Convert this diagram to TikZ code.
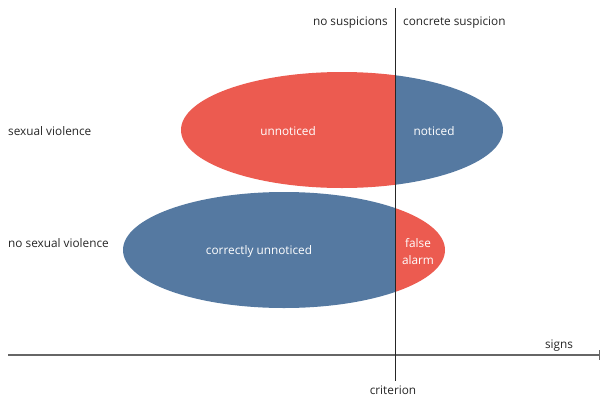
\documentclass[tikz,border=0pt]{standalone}
\usepackage{fontspec}
\setmainfont{Open Sans}
\definecolor{redc}{HTML}{EC5B50}
\definecolor{bluec}{HTML}{5579A1}
\begin{document}
\begin{tikzpicture}[x=1pt,y=-1pt,
  lab/.style={font=\fontsize{11.8}{14}\selectfont, text=black!85, inner sep=0pt},
  inlab/.style={font=\fontsize{11.8}{17}\selectfont, text=white, inner sep=0pt, align=center}]
\useasboundingbox (0,0) rectangle (600,397);
\begin{scope}
  \clip (0,0) rectangle (395.5,397);
  \fill[redc] (342,130) ellipse [x radius=161, y radius=58];
  \fill[bluec] (284,250) ellipse [x radius=161, y radius=58];
\end{scope}
\begin{scope}
  \clip (395.5,0) rectangle (600,397);
  \fill[bluec] (342,130) ellipse [x radius=161, y radius=58];
  \fill[redc] (284,250) ellipse [x radius=161, y radius=58];
\end{scope}
% axes
\coordinate (hl) at (8,355);
\coordinate (hr) at (599,355);
\coordinate (vt) at (395.5,8);
\coordinate (vb) at (395.5,381);
\draw[black!60, line width=1.2pt] (hl) -- (hr);
\draw[black!60, line width=1pt] (599,350) -- (599,360);
\draw[black!85, line width=1.2pt] (vt) -- (vb);
% labels
\node[lab, anchor=east] (ns) at (388,22.5) {no suspicions};
\node[lab, anchor=west] (cs) at (403,22.5) {concrete suspicion};
\node[lab, anchor=west] (sv) at (8,131) {sexual violence};
\node[lab, anchor=west] (nsv) at (8,243) {no sexual violence};
\node[lab] (sg) at (559,346) {signs};
\node[lab] (cr) at (393,390) {criterion};
\node[inlab] (un) at (288,131) {unnoticed};
\node[inlab] (no) at (434,131) {noticed};
\node[inlab] (cu) at (259,251) {correctly unnoticed};
\node[inlab] (fa) at (418,252) {false\\alarm};
\end{tikzpicture}
\end{document}
